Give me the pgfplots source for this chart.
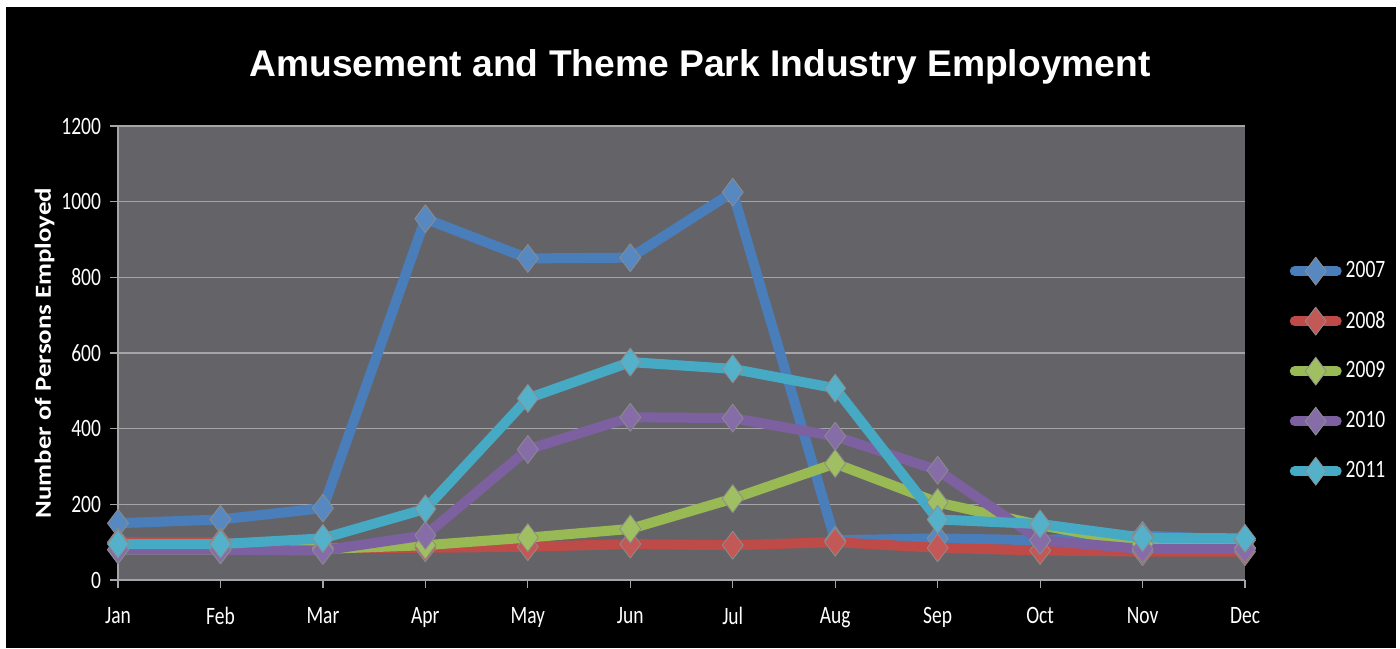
\documentclass[border=0pt]{standalone}
\usepackage{pgfplots}
\pgfplotsset{compat=1.18}
\usepackage{fontspec}
\setmainfont{Carlito}[FakeStretch=0.78]
\newfontfamily\titlefont{Liberation Sans}
\newfontfamily\ylabfont{Carlito}[FakeStretch=1.17]
\definecolor{plotgray}{RGB}{100,100,104}
\definecolor{gridgray}{RGB}{165,165,168}
\definecolor{c07}{RGB}{74,126,187}
\definecolor{c08}{RGB}{190,75,72}
\definecolor{c09}{RGB}{152,185,84}
\definecolor{c10}{RGB}{125,96,160}
\definecolor{c11}{RGB}{70,170,197}
\begin{document}
\begin{tikzpicture}
\fill[white] (0,0) rectangle (700pt,324pt);
\fill[black] (3pt,0) rectangle (698pt,320.5pt);
\node[text=white, font=\titlefont\bfseries\fontsize{18.6pt}{22pt}\selectfont, anchor=base] at (350pt,285.5pt) {Amusement and Theme Park Industry Employment};
\begin{axis}[
  at={(59pt,34pt)}, anchor=south west,
  scale only axis, width=563.5pt, height=227pt,
  xmin=0, xmax=11, ymin=0, ymax=1200,
  xtick={0,...,11},
  xticklabels={Jan,Feb,Mar,Apr,May,Jun,Jul,Aug,Sep,Oct,Nov,Dec},
  ytick={0,200,400,600,800,1000,1200},
  /pgf/number format/assume math mode=true,
  /pgf/number format/1000 sep={},
  ticklabel style={font=\fontsize{12.5pt}{14pt}\selectfont, text=white},
  xticklabel style={yshift=-6pt},
  yticklabel style={xshift=-1pt},
  axis x line=bottom, axis y line=left,
  axis line style={-, draw=gridgray, line width=0.6pt},
  tick style={draw=gridgray, line width=0.6pt},
  tick align=outside, major tick length=4pt,
  ymajorgrids, grid style={draw=gridgray, line width=0.6pt},
  axis background/.style={fill=plotgray},
  ylabel={\ylabfont\bfseries Number of Persons Employed},
  every axis y label/.style={at={(ticklabel cs:0.5)}, rotate=90, anchor=center, yshift=5pt,
    text=white, font=\fontsize{11.5pt}{13pt}\selectfont},
  legend style={draw=none, fill=none, at={(1.034,0.46)}, anchor=west,
    text=white, font=\fontsize{12.5pt}{14pt}\selectfont, row sep=11pt,
    /tikz/every even column/.append style={column sep=0pt}},
  legend cell align=left,
  legend image code/.code={\draw[mark repeat=2,mark phase=2,#1] plot coordinates {(0pt,0pt) (10.5pt,0pt) (21pt,0pt)};},
  every axis plot/.append style={line width=5pt, line join=round, line cap=round, mark=diamond*, mark size=7pt},
  clip=false,
]
\addplot[c07, mark options={fill=c07!92!white, draw=black!45, line width=0.4pt}] coordinates {(0,150)(1,160)(2,190)(3,955)(4,850)(5,852)(6,1025)(7,105)(8,110)(9,105)(10,118)(11,105)};
\addplot[c08, mark options={fill=c08!92!white, draw=black!45, line width=0.4pt}] coordinates {(0,100)(1,100)(2,85)(3,85)(4,88)(5,95)(6,92)(7,100)(8,85)(9,78)(10,75)(11,75)};
\addplot[c09, mark options={fill=c09!92!white, draw=black!45, line width=0.4pt}] coordinates {(0,80)(1,80)(2,82)(3,92)(4,112)(5,135)(6,215)(7,308)(8,205)(9,145)(10,95)(11,85)};
\addplot[c10, mark options={fill=c10!92!white, draw=black!45, line width=0.4pt}] coordinates {(0,80)(1,80)(2,78)(3,118)(4,345)(5,430)(6,428)(7,380)(8,290)(9,105)(10,82)(11,82)};
\addplot[c11, mark options={fill=c11!92!white, draw=black!45, line width=0.4pt}] coordinates {(0,95)(1,95)(2,110)(3,188)(4,480)(5,576)(6,558)(7,507)(8,160)(9,148)(10,112)(11,110)};
\legend{2007,2008,2009,2010,2011}
\end{axis}
\end{tikzpicture}
\end{document}
